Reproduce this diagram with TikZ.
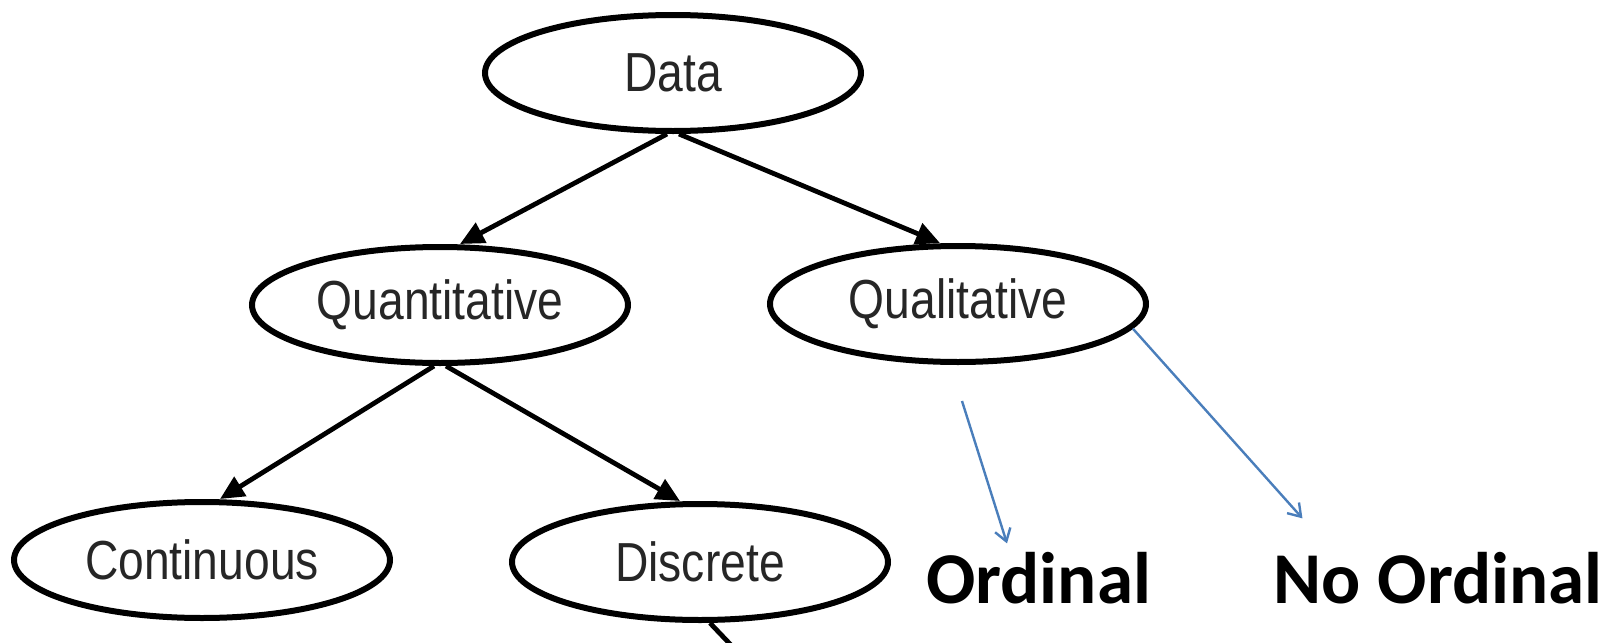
\documentclass[tikz,border=0pt]{standalone}
\usepackage{fontspec}
\newfontfamily\ovalfont[FakeStretch=0.84]{Liberation Sans}
\newfontfamily\lblfont{Carlito}
\usetikzlibrary{arrows.meta,positioning,shapes.geometric}
\definecolor{linkblue}{HTML}{4A7EBB}

\begin{document}
\begin{tikzpicture}[x=0.5pt,y=-0.5pt,>={Triangle[length=12pt,width=11pt]},
oval/.style={draw,ellipse,line width=3pt,minimum width=188pt,minimum height=58pt,font=\ovalfont\fontsize{27.5}{31}\selectfont,text=black!85},
edge/.style={->,line width=2.4pt},
blu/.style={-{Straight Barb[length=6pt,width=8pt]},draw=linkblue,line width=1.2pt},
lbl/.style={inner sep=0pt,font=\lblfont\bfseries\fontsize{36.5}{40}\selectfont}]
\useasboundingbox (0,0) rectangle (1614,643);
% tree of data types
\node[oval] (D) at (673,73) {Data};
\node[oval] (Qn) at (440,305) {Quantitative};
\node[oval] (Ql) at (958,304) {Qualitative};
\node[oval] (C) at (202,560) {Continuous};
\node[oval] (Ds) at (700,562) {Discrete};
\draw[edge] ([xshift=-3pt]D.south)--([xshift=10pt]Qn.north);
\draw[edge] ([xshift=3pt]D.south)--([xshift=-9pt]Ql.north);
\draw[edge] ([xshift=-3pt]Qn.south)--([xshift=9pt]C.north);
\draw[edge] ([xshift=3pt]Qn.south)--([xshift=-10pt]Ds.north);
\coordinate (cut) at (750,665);
\draw[line width=2.4pt] ([xshift=5pt]Ds.south)--(cut);
% qualitative split
\node[lbl,anchor=base west] (O) at (926,603) {Ordinal};
\node[lbl,right=61pt of O] (NO) {No Ordinal};
\coordinate (o1) at (962,401);
\draw[blu] (o1)--([xshift=40.5pt,yshift=4pt]O.north west);
\draw[blu] (Ql.-8)--([xshift=14.5pt,yshift=16.5pt]NO.north west);
\end{tikzpicture}
\end{document}
